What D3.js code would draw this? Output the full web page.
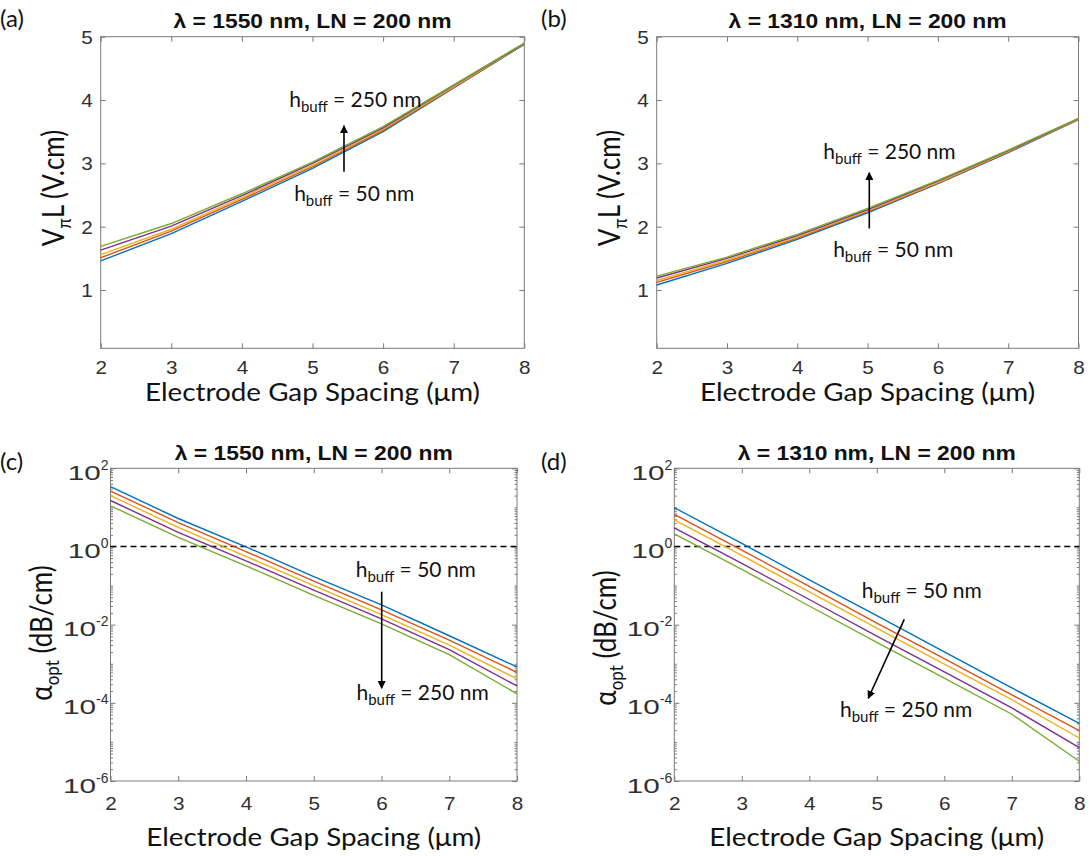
<!DOCTYPE html>
<html><head><meta charset="utf-8">
<script src="https://cdn.jsdelivr.net/npm/d3@7"></script>
<style>body{margin:0;background:#fff}</style>
</head><body>
<svg id="chart" width="1090" height="856"></svg>
<script>
// ---------------- data ----------------
const gapSpacing = [2, 3, 4, 5, 6, 7, 8];             // µm
const bufferThickness = ["50 nm", "100 nm", "150 nm", "200 nm", "250 nm"];
const lineColors = ["#0072BD", "#D95319", "#EDB120", "#7E2F8E", "#77AC30"];

// VπL (V.cm), λ = 1550 nm, one row per h_buff
const vpiL_1550 = [
  [1.46, 1.89, 2.40, 2.92, 3.50, 4.19, 4.880],
  [1.51, 1.93, 2.43, 2.95, 3.52, 4.20, 4.885],
  [1.56, 1.96, 2.46, 2.97, 3.54, 4.21, 4.890],
  [1.63, 2.01, 2.49, 3.00, 3.56, 4.23, 4.895],
  [1.69, 2.05, 2.52, 3.02, 3.58, 4.24, 4.900]
];
// VπL (V.cm), λ = 1310 nm
const vpiL_1310 = [
  [1.08, 1.42, 1.80, 2.22, 2.68, 3.17, 3.690],
  [1.12, 1.45, 1.82, 2.24, 2.69, 3.18, 3.695],
  [1.15, 1.47, 1.84, 2.25, 2.70, 3.19, 3.700],
  [1.19, 1.50, 1.86, 2.27, 2.72, 3.20, 3.705],
  [1.22, 1.52, 1.88, 2.29, 2.73, 3.21, 3.710]
];
// α_opt (dB/cm), λ = 1550 nm
const alpha_1550 = [
  [34,  5.2, 0.98, 0.17,  3.2e-2, 5.2e-3, 8.3e-4],
  [26,  4.1, 0.74, 0.13,  2.4e-2, 4.0e-3, 6.0e-4],
  [20,  3.1, 0.56, 0.10,  1.8e-2, 3.0e-3, 4.1e-4],
  [15,  2.3, 0.43, 7.6e-2,1.4e-2, 2.3e-3, 2.7e-4],
  [11,  1.7, 0.32, 5.6e-2,1.05e-2,1.7e-3, 1.7e-4]
];
// α_opt (dB/cm), λ = 1310 nm
const alpha_1310 = [
  [9.8, 1.2,  0.14,   1.7e-2, 2.0e-3,  2.4e-4, 3.0e-5],
  [6.6, 0.81, 9.5e-2, 1.1e-2, 1.35e-3, 1.6e-4, 1.95e-5],
  [4.8, 0.59, 6.9e-2, 8.1e-3, 9.8e-4,  1.2e-4, 1.26e-5],
  [3.0, 0.37, 4.4e-2, 5.1e-3, 6.2e-4,  7.4e-5, 7.1e-6],
  [2.1, 0.26, 3.0e-2, 3.5e-3, 4.3e-4,  5.1e-5, 3.2e-6]
];
const xTickValues = [2, 3, 4, 5, 6, 7, 8];
const vpiTickValues = [1, 2, 3, 4, 5];
const alphaTickExponents = [2, 0, -2, -4, -6];
const lossLimit = 1;   // dB/cm dashed reference

// annotation anchors in data units
const notes_a = {t250: [4.67, 3.894], t50: [4.74, 2.409], from: [5.446, 2.867], to: [5.446, 3.594]};
const notes_b = {t250: [4.37, 3.063], t50: [4.51, 1.515], from: [5.024, 1.973], to: [5.024, 2.852]};
const notes_c = {t50: [5.62, 0.169], t250: [5.63, 1.18e-4], from: [6.003, 0.0697], to: [6.003, 2.36e-4]};
const notes_d = {t50: [4.776, 0.0472], t250: [4.455, 4.43e-5], from: [5.407, 0.0137], to: [4.874, 1.31e-4]};

// ---------------- layout ----------------
const panels = [
  {letter: "(a)", lx: 0,   ly: 27,  title: "1550", data: vpiL_1550, log: false, notes: notes_a,
   x0: 100.7, x1: 524.3, top: 36.7, bottom: 348.3, titleY: 28, tickOff: 26, xlabY: 401, ylabX: 64, ylabY: 188},
  {letter: "(b)", lx: 541, ly: 27,  title: "1310", data: vpiL_1310, log: false, notes: notes_b,
   x0: 656.7, x1: 1078.5, top: 36.7, bottom: 348.3, titleY: 28, tickOff: 26, xlabY: 401, ylabX: 620, ylabY: 188},
  {letter: "(c)", lx: 0,   ly: 470, title: "1550", data: alpha_1550, log: true, notes: notes_c,
   x0: 110.5, x1: 517, top: 468.3, bottom: 781, titleY: 460, tickOff: 29, xlabY: 846, ylabX: 52, ylabY: 633},
  {letter: "(d)", lx: 541, ly: 470, title: "1310", data: alpha_1310, log: true, notes: notes_d,
   x0: 674.3, x1: 1079.3, top: 468.3, bottom: 781, titleY: 460, tickOff: 29, xlabY: 846, ylabX: 616, ylabY: 638}
];

const svg = d3.select("#chart");
const AX = "#7a7a7a", TXT = "#303030";
const tickFont = "'Liberation Sans', Arial, sans-serif";
const labFont = "Lato, 'Open Sans', sans-serif";

// arrowhead
svg.append("defs").append("marker").attr("id", "ah")
  .attr("viewBox", "0 0 10 10").attr("refX", 9).attr("refY", 5)
  .attr("markerWidth", 8).attr("markerHeight", 8).attr("markerUnits", "userSpaceOnUse")
  .attr("orient", "auto")
  .append("path").attr("d", "M0,0 L10,5 L0,10 z").attr("fill", "#000");

function styleAxis(g) {
  g.select(".domain").remove();
  g.selectAll(".tick line").attr("stroke", AX).attr("stroke-width", 1);
  g.selectAll("text").attr("fill", TXT).attr("font-family", tickFont).attr("font-size", 18);
}

function hbuff(g, x, y, val, len) {
  const t = g.append("text").attr("x", x).attr("y", y)
    .attr("font-family", labFont).attr("font-size", 21).attr("fill", "#111");
  t.append("tspan").text("h");
  t.append("tspan").attr("dy", 5).attr("font-size", 15).text("buff");
  t.append("tspan").attr("dy", -5).text(" = " + val);
}

panels.forEach(p => {
  const g = svg.append("g");
  const x = d3.scaleLinear().domain([2, 8]).range([p.x0, p.x1]);
  const y = p.log
    ? d3.scaleLog().domain([1e-6, 1e2]).range([p.bottom, p.top])
    : d3.scaleLinear().domain([0.08, 5]).range([p.bottom, p.top]);

  // frame
  g.append("rect").attr("x", p.x0).attr("y", p.top)
    .attr("width", p.x1 - p.x0).attr("height", p.bottom - p.top)
    .attr("fill", "none").attr("stroke", AX).attr("stroke-width", 1);

  // x axes
  const xb = g.append("g").attr("transform", `translate(0,${p.bottom})`)
    .call(d3.axisBottom(x).tickValues(xTickValues).tickSize(-5).tickFormat(d3.format("d")));
  styleAxis(xb);
  xb.selectAll("text").attr("y", p.tickOff).attr("dy", null)
    .attr("transform", "scale(1.15,1)");
  const xt = g.append("g").attr("transform", `translate(0,${p.top})`)
    .call(d3.axisTop(x).tickValues(xTickValues).tickSize(-5).tickFormat(""));
  styleAxis(xt);

  if (!p.log) {
    const yl = g.append("g").attr("transform", `translate(${p.x0},0)`)
      .call(d3.axisLeft(y).tickValues(vpiTickValues).tickSize(-5).tickFormat(d3.format("d")));
    styleAxis(yl);
    yl.selectAll("text").attr("x", -7).attr("dy", "0.35em").attr("transform", "scale(1.15,1)");
    const yr = g.append("g").attr("transform", `translate(${p.x1},0)`)
      .call(d3.axisRight(y).tickValues(vpiTickValues).tickSize(-5).tickFormat(""));
    styleAxis(yr);
  } else {
    const majors = alphaTickExponents.map(e => Math.pow(10, e));
    const minors = [];
    for (let e = -6; e < 2; e++) for (let m = 1; m <= 9; m++) {
      if (m === 1 && e % 2 === 0) continue;
      minors.push(m * Math.pow(10, e));
    }
    [["L", p.x0], ["R", p.x1]].forEach(([side, pos]) => {
      const mk = side === "L" ? d3.axisLeft : d3.axisRight;
      const gm = g.append("g").attr("transform", `translate(${pos},0)`)
        .call(mk(y).tickValues(minors).tickSize(-2.5).tickFormat(""));
      styleAxis(gm);
      const gM = g.append("g").attr("transform", `translate(${pos},0)`)
        .call(mk(y).tickValues(majors).tickSize(-5).tickFormat(""));
      styleAxis(gM);
      if (side === "L") {
        gM.selectAll(".tick").each(function (d) {
          const e = Math.round(Math.log10(d));
          const t = d3.select(this).append("text").attr("fill", TXT)
            .attr("font-family", tickFont).attr("font-size", 20)
            .attr("text-anchor", "end").attr("x", -2).attr("y", 11);
          t.append("tspan").attr("textLength", 33).attr("lengthAdjust", "spacingAndGlyphs").text("10");
          t.append("tspan").attr("dy", -10).attr("font-size", 14).text(String(e));
        });
      }
    });
    // dashed 1 dB/cm line
    g.append("line").attr("x1", x(2)).attr("x2", x(8))
      .attr("y1", y(lossLimit)).attr("y2", y(lossLimit))
      .attr("stroke", "#000").attr("stroke-width", 1.4).attr("stroke-dasharray", "6,4");
  }

  // series
  const line = d3.line().x((d, i) => x(gapSpacing[i])).y(d => y(d));
  p.data.forEach((s, k) => {
    g.append("path").attr("d", line(s)).attr("fill", "none")
      .attr("stroke", lineColors[k]).attr("stroke-width", 1.4)
      .append("title").text("h_buff = " + bufferThickness[k]);
  });

  // title
  g.append("text").attr("x", (p.x0 + p.x1) / 2).attr("y", p.titleY)
    .attr("text-anchor", "middle").attr("font-family", tickFont)
    .attr("font-weight", "bold").attr("font-size", 21).attr("fill", "#111")
    .attr("textLength", 278).attr("lengthAdjust", "spacingAndGlyphs")
    .text(`\u03BB = ${p.title} nm, LN = 200 nm`);

  // panel letter
  g.append("text").attr("x", p.lx).attr("y", p.ly).attr("font-family", labFont)
    .attr("font-size", 24).attr("fill", "#111").text(p.letter);

  // x label
  g.append("text").attr("x", (p.x0 + p.x1) / 2).attr("y", p.xlabY)
    .attr("text-anchor", "middle").attr("font-family", labFont)
    .attr("font-size", 25).attr("fill", "#111")
    .attr("textLength", 335).attr("lengthAdjust", "spacingAndGlyphs")
    .text("Electrode Gap Spacing (\u03BCm)");

  // y label
  const yl = g.append("text").attr("transform", `translate(${p.ylabX},${p.ylabY}) scale(1.15,1) rotate(-90)`)
    .attr("text-anchor", "middle").attr("font-family", labFont)
    .attr("font-size", 26).attr("fill", "#111");
  if (!p.log) {
    yl.append("tspan").text("V");
    yl.append("tspan").attr("dy", 6).attr("font-size", 17).text("\u03C0");
    yl.append("tspan").attr("dy", -6).text("L (V.cm)");
  } else {
    yl.append("tspan").text("\u03B1");
    yl.append("tspan").attr("dy", 6).attr("font-size", 17).text("opt");
    yl.append("tspan").attr("dy", -6).text(" (dB/cm)");
  }

  // annotations
  const n = p.notes;
  hbuff(g, x(n.t250[0]), y(n.t250[1]), "250 nm");
  hbuff(g, x(n.t50[0]), y(n.t50[1]), "50 nm");
  g.append("line").attr("x1", x(n.from[0])).attr("y1", y(n.from[1]))
    .attr("x2", x(n.to[0])).attr("y2", y(n.to[1]))
    .attr("stroke", "#000").attr("stroke-width", 1.6).attr("marker-end", "url(#ah)");
});
</script>
</body></html>
